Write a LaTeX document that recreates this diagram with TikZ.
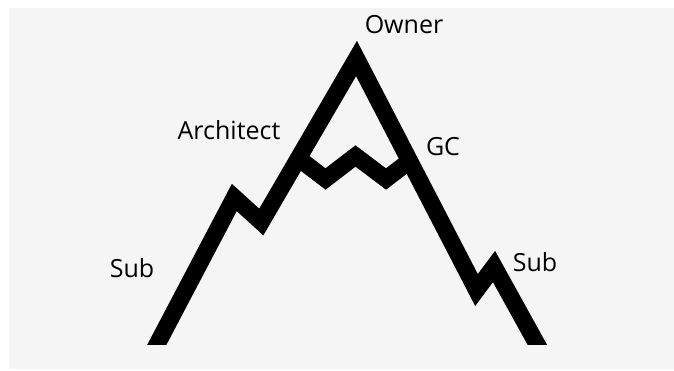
\documentclass[tikz,border=0pt]{standalone}
\usepackage{fontspec}
\setmainfont{Open Sans}
\definecolor{bggray}{HTML}{F5F5F5}
\tikzset{
  ridge/.style={line width=17pt, line join=miter, miter limit=20, black},
  lbl/.style={font=\fontsize{25}{30}\selectfont, inner sep=0pt, anchor=center}
}
\begin{document}
\begin{tikzpicture}[x=1pt,y=-1pt]
\fill[white] (0,0) rectangle (674,371);
\fill[bggray] (9,8) rectangle (674,369);
\useasboundingbox (0,0) rectangle (674,371);
% main outline
\coordinate (b1) at (140.4,376);
\coordinate (p1) at (234.3,197.5);
\coordinate (v1) at (261.3,222);
\coordinate (top) at (356.5,58.5);
\coordinate (v2) at (476.5,290);
\coordinate (p2) at (494,266.5);
\coordinate (b2) at (554.6,376);
\coordinate (c0) at (298,158);
\coordinate (c1) at (325.5,179);
\coordinate (c2) at (355.5,156);
\coordinate (c3) at (386,179);
\coordinate (c4) at (409.5,161);
\begin{scope}
\clip (0,0) rectangle (674,344);
\draw[ridge] (b1) -- (p1) -- (v1) -- (top) -- (v2) -- (p2) -- (b2);
\end{scope}
\draw[ridge] (c0) -- (c1) -- (c2) -- (c3) -- (c4);
\node[lbl] (owner) at (404,25) {Owner};
\node[lbl] (arch) at (229,130) {Architect};
\node[lbl] (gc) at (443,147) {GC};
\node[lbl] (subl) at (132,268) {Sub};
\node[lbl] (subr) at (535,262) {Sub};
\end{tikzpicture}
\end{document}
